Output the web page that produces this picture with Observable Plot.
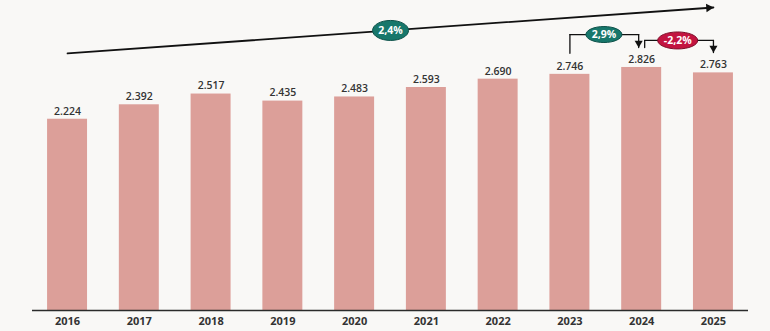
<!DOCTYPE html>
<html>
<head>
<meta charset="utf-8">
<script src="https://cdn.jsdelivr.net/npm/d3@7"></script>
<script src="https://cdn.jsdelivr.net/npm/@observablehq/plot@0.6"></script>
<style>
  html, body { margin: 0; padding: 0; background: #f9f8f6; }
  #chart svg { display: block; }
</style>
</head>
<body>
<div id="chart"></div>
<script>
// ---- data ----
const years = ["2016", "2017", "2018", "2019", "2020", "2021", "2022", "2023", "2024", "2025"];
const values = [2224, 2392, 2517, 2435, 2483, 2593, 2690, 2746, 2826, 2763];
const valueLabels = ["2.224", "2.392", "2.517", "2.435", "2.483", "2.593", "2.690", "2.746", "2.826", "2.763"];

// overall growth arrow (chart units)
const trendYears = ["2016", "2025"];
const trendLevels = [2990, 3523];
const trendLabel = "2,4%";

// year-over-year connectors
const yoyFrom = ["2023", "2024"];
const yoyTo = ["2024", "2025"];
const yoyStart = [2990, 3058];
const yoyTop = [3209, 3140];
const yoyEnd = [3058, 3000];
const yoyLabels = ["2,9%", "-2,2%"];

const teal = "#17776b", red = "#c31440";
const barColor = "#dc9f99";
const ink = "#333333";

const bars = years.map((y, i) => ({year: y, value: values[i], label: valueLabels[i]}));
const yoy = yoyFrom.map((f, i) => ({from: f, to: yoyTo[i], start: yoyStart[i], top: yoyTop[i], end: yoyEnd[i], label: yoyLabels[i], color: i === 0 ? teal : red, stroke: i === 0 ? "#0d5149" : "#7e0c28"}));
const trend = [{x1: trendYears[0], x2: trendYears[1], y1: trendLevels[0], y2: trendLevels[1], mid: (trendLevels[0] + trendLevels[1]) / 2, label: trendLabel}];

function ellipseSymbol(rx, ry) {
  const k = 0.5522847498;
  return {
    draw(context) {
      context.moveTo(rx, 0);
      context.bezierCurveTo(rx, ry * k, rx * k, ry, 0, ry);
      context.bezierCurveTo(-rx * k, ry, -rx, ry * k, -rx, 0);
      context.bezierCurveTo(-rx, -ry * k, -rx * k, -ry, 0, -ry);
      context.bezierCurveTo(rx * k, -ry, rx, -ry * k, rx, 0);
      context.closePath();
    }
  };
}

const half = 36; // half band step in px, for badges between bars

const chart = Plot.plot({
  width: 770,
  height: 331,
  marginTop: 9,
  marginBottom: 21,
  marginLeft: 32,
  marginRight: 22,
  style: {background: "transparent", fontFamily: "'Open Sans', sans-serif", color: ink},
  x: {type: "band", domain: years, paddingInner: 0.443, paddingOuter: 0.21, round: false, label: null},
  y: {domain: [0, 3500], axis: null},
  marks: [
    Plot.barY(bars, {x: "year", y: "value", fill: barColor}),
    Plot.ruleY([0], {stroke: "#2b2b2b", strokeWidth: 1.5}),
    Plot.text(bars, {x: "year", y: "value", text: "label", dy: -8, fontSize: 10.5, fontWeight: 600, fill: ink}),
    Plot.axisX({tickSize: 0, tickPadding: 7, fontSize: 11, fontWeight: 700, fill: ink, label: null}),

    // overall trend arrow
    Plot.arrow(trend, {x1: "x1", y1: "y1", x2: "x2", y2: "y2", headLength: 0, stroke: "#111", strokeWidth: 1.8}),
    Plot.dot(trend, {x: "x2", y: "y2", symbol: "triangle", r: 3.2, rotate: 86, dx: -4.7, dy: 0.3, fill: "#111", stroke: "none"}),
    Plot.dot(trend, {x: "x1", y: "mid", dx: 323, symbol: ellipseSymbol(18, 10), fill: teal, stroke: "#0d5149", strokeWidth: 1}),
    Plot.text(trend, {x: "x1", y: "mid", dx: 323, text: "label", fill: "white", fontSize: 10.5, fontWeight: 700}),

    // first connector (2023 -> 2024)
    Plot.arrow(yoy.slice(0, 1), {x1: "from", x2: "from", y1: "start", y2: "top", headLength: 0, stroke: "#111", strokeWidth: 1.3}),
    Plot.arrow(yoy.slice(0, 1), {x1: "from", x2: "to", y1: "top", y2: "top", headLength: 0, insetEnd: 3, stroke: "#111", strokeWidth: 1.3}),
    Plot.arrow(yoy.slice(0, 1), {x1: "to", x2: "to", y1: "top", y2: "end", dx: -3, headLength: 0, stroke: "#111", strokeWidth: 1.3}),
    Plot.dot(yoy.slice(0, 1), {x: "to", y: "end", dx: -3, dy: -4.4, symbol: "triangle", rotate: 180, r: 3, fill: "#111", stroke: "none"}),

    // second connector (2024 -> 2025)
    Plot.arrow(yoy.slice(1, 2), {x1: "from", x2: "from", y1: "start", y2: "top", dx: 3, headLength: 0, stroke: "#111", strokeWidth: 1.3}),
    Plot.arrow(yoy.slice(1, 2), {x1: "from", x2: "to", y1: "top", y2: "top", headLength: 0, insetStart: 3, stroke: "#111", strokeWidth: 1.3}),
    Plot.arrow(yoy.slice(1, 2), {x1: "to", x2: "to", y1: "top", y2: "end", headLength: 0, stroke: "#111", strokeWidth: 1.3}),
    Plot.dot(yoy.slice(1, 2), {x: "to", y: "end", dy: -4.4, symbol: "triangle", rotate: 180, r: 3, fill: "#111", stroke: "none"}),

    // badges
    Plot.dot(yoy.slice(0, 1), {x: "from", y: "top", dx: half - 2, symbol: ellipseSymbol(18, 8), fill: "color", stroke: "stroke", strokeWidth: 1}),
    Plot.dot(yoy.slice(1, 2), {x: "from", y: "top", dx: half, symbol: ellipseSymbol(20, 8.5), fill: "color", stroke: "stroke", strokeWidth: 1}),
    Plot.text(yoy.slice(0, 1), {x: "from", y: "top", dx: half - 2, text: "label", fill: "white", fontSize: 10.5, fontWeight: 700}),
    Plot.text(yoy.slice(1, 2), {x: "from", y: "top", dx: half, text: "label", fill: "white", fontSize: 10.5, fontWeight: 700})
  ]
});

document.getElementById("chart").appendChild(chart);
</script>
</body>
</html>
